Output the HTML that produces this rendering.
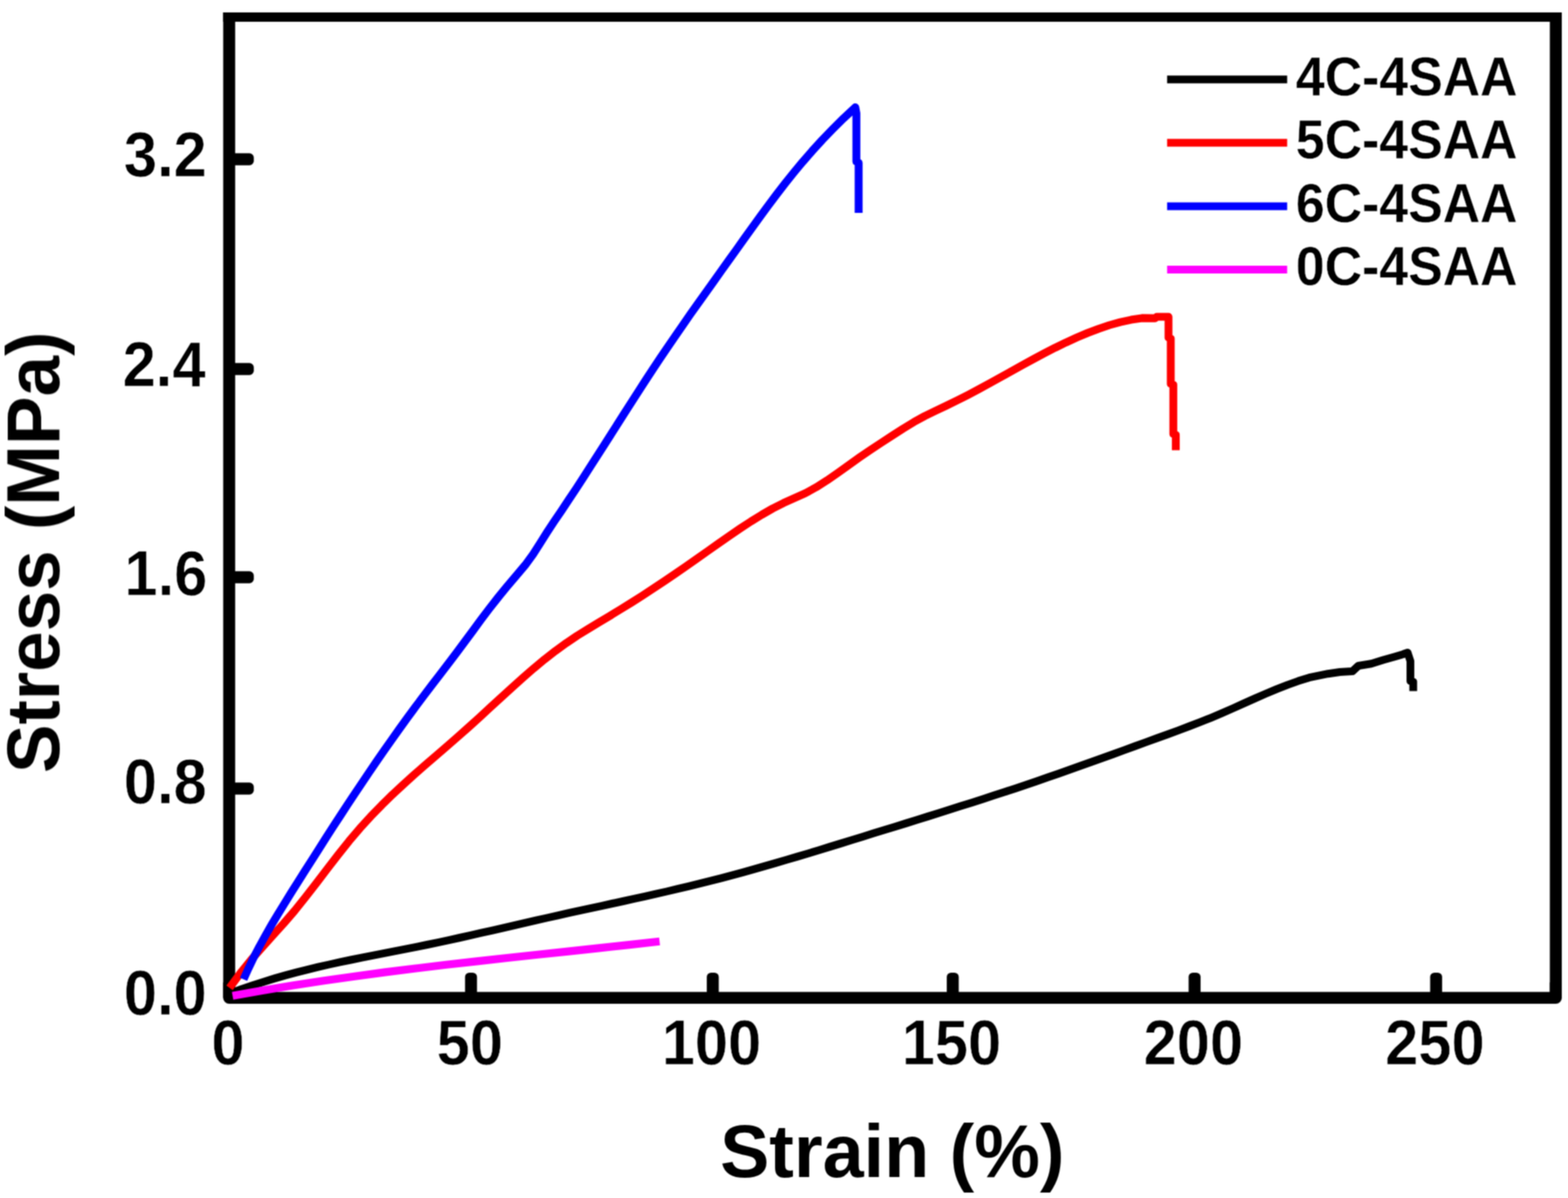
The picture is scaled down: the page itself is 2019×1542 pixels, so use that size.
<!DOCTYPE html>
<html lang="en"><head><meta charset="utf-8"><title>Stress-strain curves</title>
<style>html,body{margin:0;padding:0;background:#fff;overflow:hidden;}svg{display:block;}text{font-family:"Liberation Sans",sans-serif;font-weight:bold;fill:#000;}</style></head><body>
<svg width="2019" height="1542" viewBox="0 0 2019 1542" role="img" aria-label="Stress-strain curves">
<rect x="0" y="0" width="2019" height="1542" fill="#fff"/>
<defs><filter id="soft" filterUnits="userSpaceOnUse" x="0" y="0" width="2019" height="1542" color-interpolation-filters="sRGB"><feConvolveMatrix order="3" kernelMatrix="1 2 1 2 4 2 1 2 1" divisor="16" edgeMode="duplicate" preserveAlpha="false"/></filter></defs>
<g filter="url(#soft)">
<g stroke="#000" fill="none">
<line x1="287.40" y1="22.1" x2="2011.00" y2="22.1" stroke-width="12.0"/>
<line x1="295.1" y1="16.10" x2="295.1" y2="1284.4" stroke-width="15.4"/>
<line x1="2003.3" y1="16.10" x2="2003.3" y2="1284.4" stroke-width="15.4"/>
<polyline points="295.1,1264.4 295.1,1284.4 2003.3,1284.4 2003.3,1264.4" stroke-width="15.4" stroke-linejoin="round"/>
</g>
<g fill="#000">
<rect x="598.80" y="1252.0" width="15.4" height="32.40" rx="5.5" ry="5.5"/>
<rect x="910.10" y="1252.0" width="15.4" height="32.40" rx="5.5" ry="5.5"/>
<rect x="1219.10" y="1252.0" width="15.4" height="32.40" rx="5.5" ry="5.5"/>
<rect x="1530.50" y="1252.0" width="15.4" height="32.40" rx="5.5" ry="5.5"/>
<rect x="1841.50" y="1252.0" width="15.4" height="32.40" rx="5.5" ry="5.5"/>
<rect x="295.10" y="1007.30" width="31.70" height="15.4" rx="5.5" ry="5.5"/>
<rect x="295.10" y="735.30" width="31.70" height="15.4" rx="5.5" ry="5.5"/>
<rect x="295.10" y="467.30" width="31.70" height="15.4" rx="5.5" ry="5.5"/>
<rect x="295.10" y="197.30" width="31.70" height="15.4" rx="5.5" ry="5.5"/>
</g>
<polyline points="297.5,1278.2 311.5,1273.0 325.5,1268.2 339.6,1263.7 353.6,1259.4 367.6,1255.4 381.6,1251.6 395.7,1248.1 409.7,1244.7 423.7,1241.5 437.7,1238.4 451.7,1235.5 465.8,1232.6 479.8,1229.9 493.8,1227.1 507.8,1224.4 521.9,1221.7 535.9,1218.9 549.9,1216.0 563.9,1213.1 577.9,1210.1 592.0,1207.0 606.0,1203.9 620.0,1200.7 634.0,1197.6 648.1,1194.4 662.1,1191.1 676.1,1187.9 690.1,1184.7 704.1,1181.5 718.2,1178.4 732.2,1175.2 746.2,1172.2 760.2,1169.1 774.3,1166.1 788.3,1163.0 802.3,1160.0 816.3,1156.9 830.3,1153.8 844.4,1150.7 858.4,1147.5 872.4,1144.2 886.4,1140.9 900.5,1137.4 914.5,1133.9 928.5,1130.3 942.5,1126.6 956.5,1122.8 970.6,1118.9 984.6,1114.9 998.6,1110.9 1012.6,1106.8 1026.7,1102.6 1040.7,1098.5 1054.7,1094.2 1068.7,1089.9 1082.7,1085.6 1096.8,1081.3 1110.8,1077.0 1124.8,1072.6 1138.8,1068.3 1152.9,1063.9 1166.9,1059.6 1180.9,1055.2 1194.9,1050.9 1208.9,1046.5 1223.0,1042.1 1237.0,1037.6 1251.0,1033.2 1265.0,1028.7 1279.1,1024.1 1293.1,1019.6 1307.1,1014.9 1321.1,1010.2 1335.1,1005.4 1349.2,1000.6 1363.2,995.7 1377.2,990.8 1391.2,985.8 1405.3,980.8 1419.3,975.8 1433.3,970.7 1447.3,965.6 1461.3,960.5 1475.4,955.4 1489.4,950.3 1503.4,945.2 1517.4,940.1 1531.5,934.8 1545.5,929.4 1559.5,923.8 1573.5,917.9 1587.5,911.7 1601.6,905.4 1615.6,899.1 1629.6,893.0 1643.6,887.1 1657.7,881.6 1671.7,876.6 1685.7,872.2 1710.0,867.2 1725.3,865.0 1741.5,864.0 1749.0,857.0 1765.8,854.2 1780.9,849.5 1796.1,845.2 1806.2,842.2 1812.5,840.0 1816.1,851.0 1816.1,876.5 1819.7,877.5 1819.7,889.5" fill="none" stroke="#000000" stroke-width="10.0" stroke-linejoin="round" stroke-linecap="butt"/>
<polyline points="295.6,1271.5 309.6,1252.4 323.6,1235.2 337.6,1219.3 351.5,1203.9 365.5,1188.4 379.5,1172.1 393.5,1154.7 407.5,1136.6 421.5,1118.2 435.5,1100.1 449.5,1082.6 463.4,1066.2 477.4,1050.8 491.4,1036.4 505.4,1022.7 519.4,1009.7 533.4,997.1 547.4,984.8 561.4,972.7 575.3,960.7 589.3,948.5 603.3,936.1 617.3,923.4 631.3,910.6 645.3,897.7 659.3,885.0 673.2,872.5 687.2,860.3 701.2,848.7 715.2,837.8 729.2,827.7 743.2,818.3 757.2,809.6 771.2,801.1 785.1,792.8 799.1,784.3 813.1,775.6 827.1,766.7 841.1,757.6 855.1,748.2 869.1,738.8 883.1,729.1 897.0,719.4 911.0,709.5 925.0,699.6 939.0,689.8 953.0,680.3 967.0,671.1 981.0,662.5 994.9,654.5 1008.9,647.4 1022.9,641.2 1036.9,634.9 1050.9,627.2 1064.9,618.3 1078.9,608.6 1092.9,598.6 1106.8,588.7 1120.8,579.1 1134.8,569.9 1148.8,560.7 1162.8,551.7 1176.8,543.2 1190.8,535.5 1204.7,528.7 1218.7,522.1 1232.7,515.3 1246.7,508.2 1260.7,500.8 1274.7,493.1 1288.7,485.4 1302.7,477.6 1316.6,469.8 1330.6,462.2 1344.6,454.8 1358.6,447.6 1372.6,440.8 1386.6,434.4 1400.6,428.5 1414.6,423.2 1428.5,418.5 1442.5,414.6 1456.5,411.6 1470.5,409.4 1487.5,409.6 1489.5,407.8 1504.6,407.8 1504.6,434.5 1507.5,435.8 1507.5,494.0 1510.8,495.2 1510.8,558.6 1514.0,559.8 1514.0,579.5" fill="none" stroke="#ff0000" stroke-width="10.1" stroke-linejoin="round" stroke-linecap="butt"/>
<polyline points="313.6,1260.5 319.9,1246.5 326.7,1232.4 334.0,1218.4 341.7,1204.4 349.7,1190.4 358.1,1176.3 366.7,1162.3 375.4,1148.3 384.3,1134.2 393.1,1120.2 402.1,1106.2 411.0,1092.2 420.0,1078.1 429.0,1064.1 438.1,1050.1 447.3,1036.0 456.6,1022.0 466.0,1008.0 475.4,994.0 485.0,979.9 494.7,965.9 504.6,951.9 514.6,937.8 524.7,923.8 535.0,909.8 545.5,895.8 556.2,881.7 567.0,867.7 577.7,853.7 588.3,839.6 598.7,825.6 609.1,811.6 619.4,797.6 630.0,783.5 641.0,769.5 652.4,755.5 664.4,741.4 676.2,727.4 686.4,713.4 695.5,699.3 704.3,685.3 713.5,671.3 723.0,657.3 732.4,643.2 741.7,629.2 750.8,615.2 759.9,601.1 768.9,587.1 777.9,573.1 786.8,559.1 795.7,545.0 804.6,531.0 813.6,517.0 822.6,502.9 831.7,488.9 840.9,474.9 850.2,460.9 859.7,446.8 869.3,432.8 879.0,418.8 888.8,404.7 898.7,390.7 908.7,376.7 918.7,362.7 928.7,348.6 938.8,334.6 948.8,320.6 958.8,306.5 968.9,292.5 979.0,278.5 989.3,264.5 999.9,250.4 1010.7,236.4 1021.9,222.4 1033.6,208.3 1045.8,194.3 1058.6,180.3 1072.1,166.3 1086.3,152.2 1101.3,138.2 1102.7,146.0 1102.7,208.0 1105.6,209.5 1105.6,274.0" fill="none" stroke="#0000ff" stroke-width="10.2" stroke-linejoin="round" stroke-linecap="butt"/>
<polyline points="299.5,1281.8 338.8,1274.8 378.0,1268.3 417.3,1262.3 456.6,1256.7 495.9,1251.4 535.1,1246.5 574.4,1241.8 613.7,1237.4 652.9,1233.0 692.2,1228.8 731.5,1224.6 770.8,1220.4 810.0,1216.1 849.3,1211.7" fill="none" stroke="#ff00ff" stroke-width="10.2" stroke-linejoin="round" stroke-linecap="butt"/>
<text transform="translate(266.20,227.30) scale(0.93,1)" font-size="82.5" text-anchor="end" stroke="#fff" stroke-width="0.6" stroke-linejoin="round">3.2</text>
<text transform="translate(264.60,496.80) scale(0.93,1)" font-size="82.5" text-anchor="end" stroke="#fff" stroke-width="0.6" stroke-linejoin="round">2.4</text>
<text transform="translate(267.00,765.80) scale(0.93,1)" font-size="82.5" text-anchor="end" stroke="#fff" stroke-width="0.6" stroke-linejoin="round">1.6</text>
<text transform="translate(266.20,1033.80) scale(0.93,1)" font-size="82.5" text-anchor="end" stroke="#fff" stroke-width="0.6" stroke-linejoin="round">0.8</text>
<text transform="translate(266.20,1305.80) scale(0.93,1)" font-size="82.5" text-anchor="end" stroke="#fff" stroke-width="0.6" stroke-linejoin="round">0.0</text>
<text transform="translate(293.50,1369.60) scale(0.93,1)" font-size="82.5" text-anchor="middle" stroke="#fff" stroke-width="0.6" stroke-linejoin="round">0</text>
<text transform="translate(604.90,1369.60) scale(0.93,1)" font-size="82.5" text-anchor="middle" stroke="#fff" stroke-width="0.6" stroke-linejoin="round">50</text>
<text transform="translate(916.20,1369.60) scale(0.93,1)" font-size="82.5" text-anchor="middle" stroke="#fff" stroke-width="0.6" stroke-linejoin="round">100</text>
<text transform="translate(1225.20,1369.60) scale(0.93,1)" font-size="82.5" text-anchor="middle" stroke="#fff" stroke-width="0.6" stroke-linejoin="round">150</text>
<text transform="translate(1536.60,1369.60) scale(0.93,1)" font-size="82.5" text-anchor="middle" stroke="#fff" stroke-width="0.6" stroke-linejoin="round">200</text>
<text transform="translate(1847.60,1369.60) scale(0.93,1)" font-size="82.5" text-anchor="middle" stroke="#fff" stroke-width="0.6" stroke-linejoin="round">250</text>
<text transform="translate(1148.90,1514.60) scale(0.992,1)" font-size="95.8" text-anchor="middle">Strain (%)</text>
<text transform="translate(76.00,711.00) rotate(-90) scale(0.967,1)" font-size="97" text-anchor="middle">Stress (MPa)</text>
<line x1="1502.8" y1="102.3" x2="1657.4" y2="102.3" stroke="#000000" stroke-width="10"/>
<text transform="translate(1668.60,122.60) scale(0.945,1)" font-size="70.6" text-anchor="start" stroke="#fff" stroke-width="0.4" stroke-linejoin="round">4C-4SAA</text>
<line x1="1502.8" y1="183.7" x2="1657.4" y2="183.7" stroke="#ff0000" stroke-width="10"/>
<text transform="translate(1668.60,204.00) scale(0.945,1)" font-size="70.6" text-anchor="start" stroke="#fff" stroke-width="0.4" stroke-linejoin="round">5C-4SAA</text>
<line x1="1502.8" y1="265.5" x2="1657.4" y2="265.5" stroke="#0000ff" stroke-width="10"/>
<text transform="translate(1668.60,285.80) scale(0.945,1)" font-size="70.6" text-anchor="start" stroke="#fff" stroke-width="0.4" stroke-linejoin="round">6C-4SAA</text>
<line x1="1502.8" y1="347.0" x2="1657.4" y2="347.0" stroke="#ff00ff" stroke-width="10"/>
<text transform="translate(1668.60,367.30) scale(0.945,1)" font-size="70.6" text-anchor="start" stroke="#fff" stroke-width="0.4" stroke-linejoin="round">0C-4SAA</text>
</g>
</svg></body></html>
